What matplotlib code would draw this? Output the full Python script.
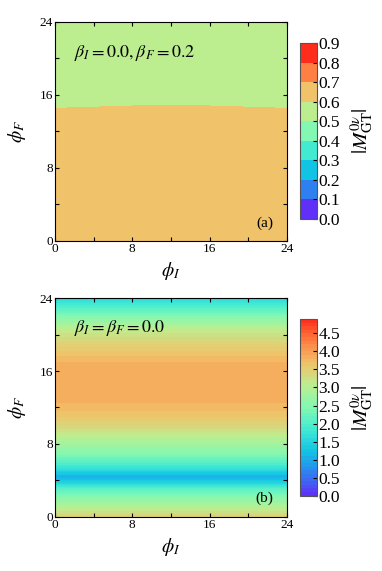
import numpy as np
import matplotlib
matplotlib.use("Agg")
import matplotlib.pyplot as plt
from matplotlib.colors import ListedColormap, LinearSegmentedColormap

plt.rcParams['font.family'] = ['Liberation Serif', 'DejaVu Serif']
plt.rcParams['mathtext.fontset'] = 'stix'

# colours of the level bands
band_colors = ['#6030F8', '#2E80F0', '#12C4E4', '#42EAD2', '#82F8B2',
               '#BCEE90', '#F0C26A', '#FF8042', '#FF2C1C']

# panel (a): beta_I = 0.0, beta_F = 0.2
phiI_a = [0, 4, 8, 12, 16, 20, 24]
phiF_a = [0, 4, 8, 12, 16, 20, 24]
# rows = phi_F, columns = phi_I
M_a = [
    [0.660, 0.660, 0.661, 0.661, 0.661, 0.660, 0.660],
    [0.650, 0.650, 0.651, 0.651, 0.651, 0.650, 0.650],
    [0.640, 0.640, 0.641, 0.641, 0.641, 0.640, 0.640],
    [0.625, 0.627, 0.629, 0.630, 0.629, 0.627, 0.625],
    [0.585, 0.586, 0.587, 0.588, 0.587, 0.586, 0.585],
    [0.570, 0.570, 0.571, 0.571, 0.571, 0.570, 0.570],
    [0.560, 0.560, 0.561, 0.561, 0.561, 0.560, 0.560],
]
levels_a = [0.0, 0.1, 0.2, 0.3, 0.4, 0.5, 0.6, 0.7, 0.8, 0.9]

# panel (b): beta_I = beta_F = 0.0, profile along phi_F (no phi_I dependence)
phiI_b = [0, 24]
phiF_b = [0, 1, 2, 3, 4, 4.4, 5, 6, 7, 8, 9, 10, 11, 12, 13, 14, 15, 16,
          17, 18, 19, 20, 21, 22, 23, 24]
M_b_profile = [3.5, 3.0, 2.6, 2.1, 1.3, 1.05, 1.5, 2.05, 2.5, 2.8, 3.1, 3.4,
               3.6, 3.75, 3.85, 3.9, 3.9, 3.85, 3.8, 3.65, 3.45, 3.25, 2.95,
               2.5, 2.0, 1.55]
vmax_b = 4.9
ticks_b = [0.0, 0.5, 1.0, 1.5, 2.0, 2.5, 3.0, 3.5, 4.0, 4.5]

cmap_a = ListedColormap(band_colors)
cmap_b = LinearSegmentedColormap.from_list('bands', band_colors)

fig = plt.figure(figsize=(3.82, 5.71), dpi=100)
ax_a = fig.add_axes([0.144, 0.5785, 0.607, 0.3835])
cax_a = fig.add_axes([0.785, 0.6165, 0.0445, 0.308])
ax_b = fig.add_axes([0.144, 0.0951, 0.607, 0.3825])
cax_b = fig.add_axes([0.785, 0.1319, 0.0445, 0.3095])

cs_a = ax_a.contourf(phiI_a, phiF_a, np.array(M_a), levels=levels_a,
                     cmap=cmap_a, vmin=0, vmax=0.9)
Mb = np.tile(np.array(M_b_profile)[:, None], (1, len(phiI_b)))
levels_b = np.linspace(0, vmax_b, 50)
cs_b = ax_b.contourf(phiI_b, phiF_b, Mb, levels=levels_b, cmap=cmap_b,
                     vmin=0, vmax=vmax_b)

for ax in (ax_a, ax_b):
    ax.set_xlim(0, 24)
    ax.set_ylim(0, 24)
    ax.set_xticks([0, 8, 16, 24])
    ax.set_yticks([0, 8, 16, 24])
    ax.set_xticks([4, 12, 20], minor=True)
    ax.set_yticks([4, 12, 20], minor=True)
    ax.tick_params(which='both', direction='in', top=True, right=True,
                   length=3, width=0.8, labelsize=9.5, pad=1.5)
    ax.set_xlabel(r'$\phi_I$', fontsize=14, labelpad=4)
    ax.set_ylabel(r'$\phi_F$', fontsize=14, labelpad=8)

ax_a.text(2.0, 20.6, r'$\beta_I = 0.0, \beta_F = 0.2$', fontsize=13,
          va='center', ha='left')
ax_a.text(21.7, 1.9, '(a)', fontsize=11, ha='center', va='center')
ax_b.text(2.0, 20.7, r'$\beta_I = \beta_F = 0.0$', fontsize=13,
          va='center', ha='left')
ax_b.text(21.7, 2.05, '(b)', fontsize=11, ha='center', va='center')

cb_a = fig.colorbar(cs_a, cax=cax_a, ticks=levels_a)
cb_a.ax.set_yticklabels(['%.1f' % v for v in levels_a])
cb_b = fig.colorbar(cs_b, cax=cax_b, ticks=ticks_b)
cb_b.ax.set_yticklabels(['%.1f' % v for v in ticks_b])
cb_b.ax.set_ylim(0, vmax_b)

for cb in (cb_a, cb_b):
    cb.ax.tick_params(direction='in', length=3, width=0.8, labelsize=12.5,
                      pad=1)
    cb.outline.set_edgecolor('#555555')
    cb.set_label(r'$|M^{0\nu}_{\rm GT}|$', fontsize=15, labelpad=6)

fig.savefig('out.png', dpi=100)
